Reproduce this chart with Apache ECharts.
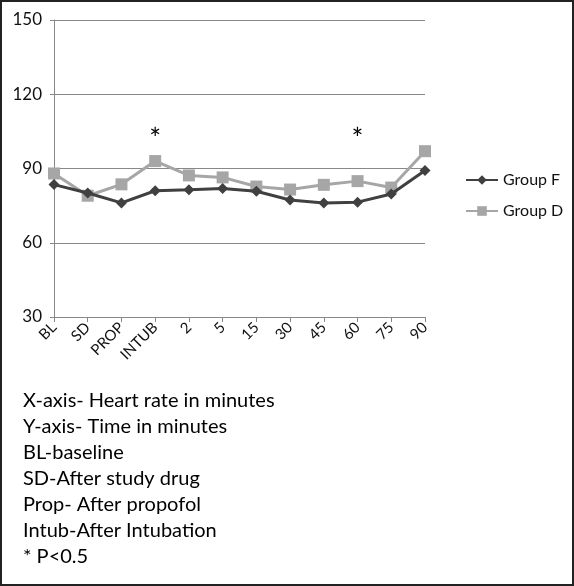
<!DOCTYPE html>
<html><head><meta charset="utf-8">
<script src="https://cdn.jsdelivr.net/npm/echarts@6/dist/echarts.min.js"></script>
<style>html,body{margin:0;padding:0;background:#fff}#c{width:574px;height:586px}</style>
</head><body><div id="c"></div>
<script>
const categories = ['BL','SD','PROP','INTUB','2','5','15','30','45','60','75','90'];
const groupF = [83.5, 80.1, 76.1, 81.0, 81.4, 81.9, 80.8, 77.3, 76.1, 76.4, 79.7, 89.2];
const groupD = [88.0, 79.0, 83.6, 93.0, 87.2, 86.4, 82.7, 81.5, 83.4, 84.9, 82.3, 97.0];
const yTicks = [30, 60, 90, 120, 150];
const significant = [{cat: 'INTUB', value: 101.5}, {cat: '60', value: 101.5}];
const notes = ['X-axis- Heart rate in minutes','Y-axis- Time in minutes','BL-baseline','SD-After study drug','Prop- After propofol','Intub-After Intubation','* P<0.5'];

const chart = echarts.init(document.getElementById('c'), null, {renderer:'canvas'});
const font = 'Lato, "Open Sans", sans-serif';
chart.setOption({
  animation: false,
  backgroundColor: '#fff',
  grid: {left: 54, top: 20, width: 371, height: 297, containLabel: false},
  legend: {
    data: ['Group F','Group D'],
    orient: 'vertical', left: 465, top: 172, itemGap: 15, padding: 0,
    itemWidth: 32, itemHeight: 12,
    textStyle: {fontFamily: font, fontSize: 16, color: '#111'}
  },
  xAxis: {
    type: 'category', data: categories, boundaryGap: false,
    axisLine: {lineStyle: {color: '#888', width: 1}},
    axisTick: {show: true, alignWithLabel: true, length: 5, lineStyle: {color: '#888'}},
    axisLabel: {rotate: 45, fontFamily: font, fontSize: 15, color: '#111', margin: 8, interval: 0}
  },
  yAxis: {
    type: 'value', min: yTicks[0], max: yTicks[yTicks.length-1], interval: 30,
    axisLine: {show: true, lineStyle: {color: '#888'}},
    axisTick: {show: true, length: 4, lineStyle: {color: '#888'}},
    splitLine: {lineStyle: {color: '#888', width: 1}},
    axisLabel: {fontFamily: font, fontSize: 17, color: '#111', margin: 12}
  },
  series: [
    {
      name: 'Group F', type: 'line', data: groupF,
      symbol: 'diamond', symbolSize: 11,
      lineStyle: {color: '#404040', width: 3},
      itemStyle: {color: '#404040'},
      z: 3
    },
    {
      name: 'Group D', type: 'line', data: groupD,
      symbol: 'rect', symbolSize: 12,
      lineStyle: {color: '#a6a6a6', width: 3},
      itemStyle: {color: '#a6a6a6'},
      z: 2,
      markPoint: {
        symbol: 'circle', symbolSize: 1,
        itemStyle: {color: 'rgba(0,0,0,0)'},
        label: {show: true, formatter: '*', position: 'inside', color: '#000', fontSize: 28, fontFamily: font},
        data: significant.map(s => ({coord: [s.cat, s.value]}))
      }
    }
  ],
  graphic: [
    {type: 'rect', shape: {x: 1, y: 1, width: 572, height: 584}, style: {fill: 'none', stroke: '#222', lineWidth: 2}, silent: true},
    ...notes.map((t, i) => ({
      type: 'text', left: 23, top: 391 + i * 26,
      style: {text: t, fontFamily: font, fontSize: 20, fill: '#000'}
    }))
  ]
});
</script></body></html>
